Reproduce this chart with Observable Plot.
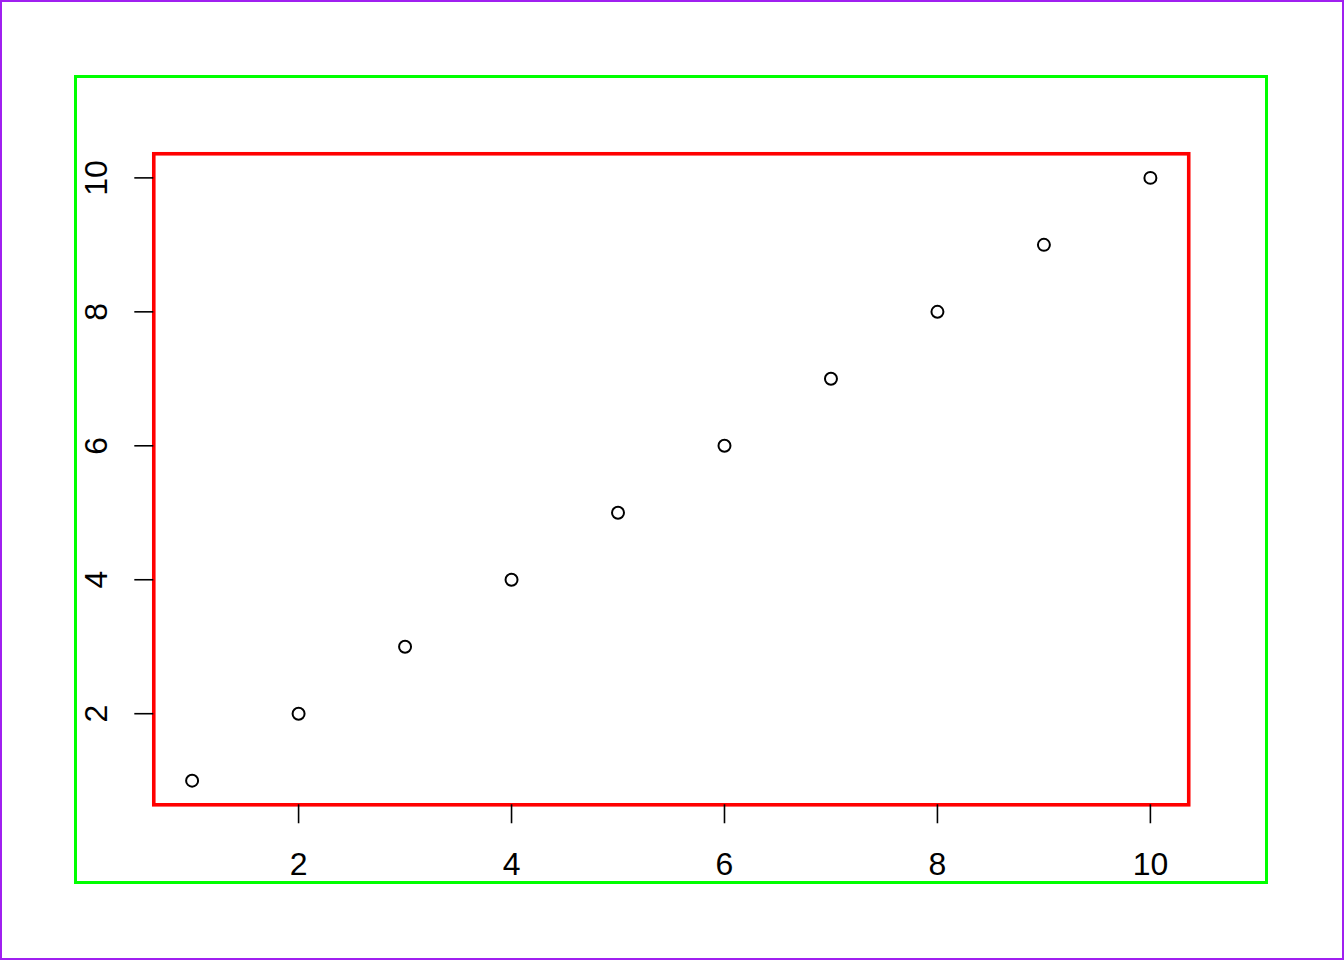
<!DOCTYPE html>
<html>
<head>
<meta charset="utf-8">
<script src="https://cdn.jsdelivr.net/npm/d3@7"></script>
<script src="https://cdn.jsdelivr.net/npm/@observablehq/plot@0.6"></script>
<style>
  html, body { margin: 0; padding: 0; background: #ffffff; }
  #fig { position: relative; width: 1344px; height: 960px; box-sizing: border-box; border: 2px solid #A020F0; overflow: hidden; }
  #inner { position: absolute; left: 72px; top: 73px; width: 1194px; height: 809px; box-sizing: border-box; border: 3.5px solid #00FF00; }
  #chart { position: absolute; left: -2px; top: -2px; }
  #chart svg { background: transparent; }
</style>
</head>
<body>
<div id="fig"><div id="inner"></div><div id="chart"></div></div>
<script>
const xValues = [1, 2, 3, 4, 5, 6, 7, 8, 9, 10];
const yValues = [1, 2, 3, 4, 5, 6, 7, 8, 9, 10];
const xTicks = [2, 4, 6, 8, 10];
const yTicks = [2, 4, 6, 8, 10];

const points = xValues.map((x, i) => ({x, y: yValues[i]}));
const font = "'Liberation Sans', Arial, sans-serif";

const chart = Plot.plot({
  width: 1344,
  height: 960,
  marginLeft: 153.5,
  marginRight: 154,
  marginTop: 153.5,
  marginBottom: 154.5,
  style: {background: "transparent", fontFamily: font, color: "black"},
  x: {domain: [0.64, 10.36]},
  y: {domain: [0.64, 10.36]},
  marks: [
    Plot.frame({stroke: "#FF0000", strokeWidth: 3.6}),
    Plot.axisX({ticks: xTicks, tickSize: 19, tickPadding: 28.5, fontSize: 32, strokeWidth: 1.6, stroke: "black", fill: "black", label: null, tickFormat: d => String(d)}),
    Plot.axisY({ticks: yTicks, tickSize: 19, text: null, strokeWidth: 1.6, stroke: "black", label: null}),
    Plot.text(yTicks, {y: d => d, text: d => String(d), frameAnchor: "left", dx: -57, rotate: -90, textAnchor: "middle", lineAnchor: "middle", fontSize: 32, fill: "black"}),
    Plot.dot(points, {x: "x", y: "y", r: 6, stroke: "black", strokeWidth: 2, fill: "none"})
  ]
});
document.getElementById("chart").appendChild(chart);
</script>
</body>
</html>
